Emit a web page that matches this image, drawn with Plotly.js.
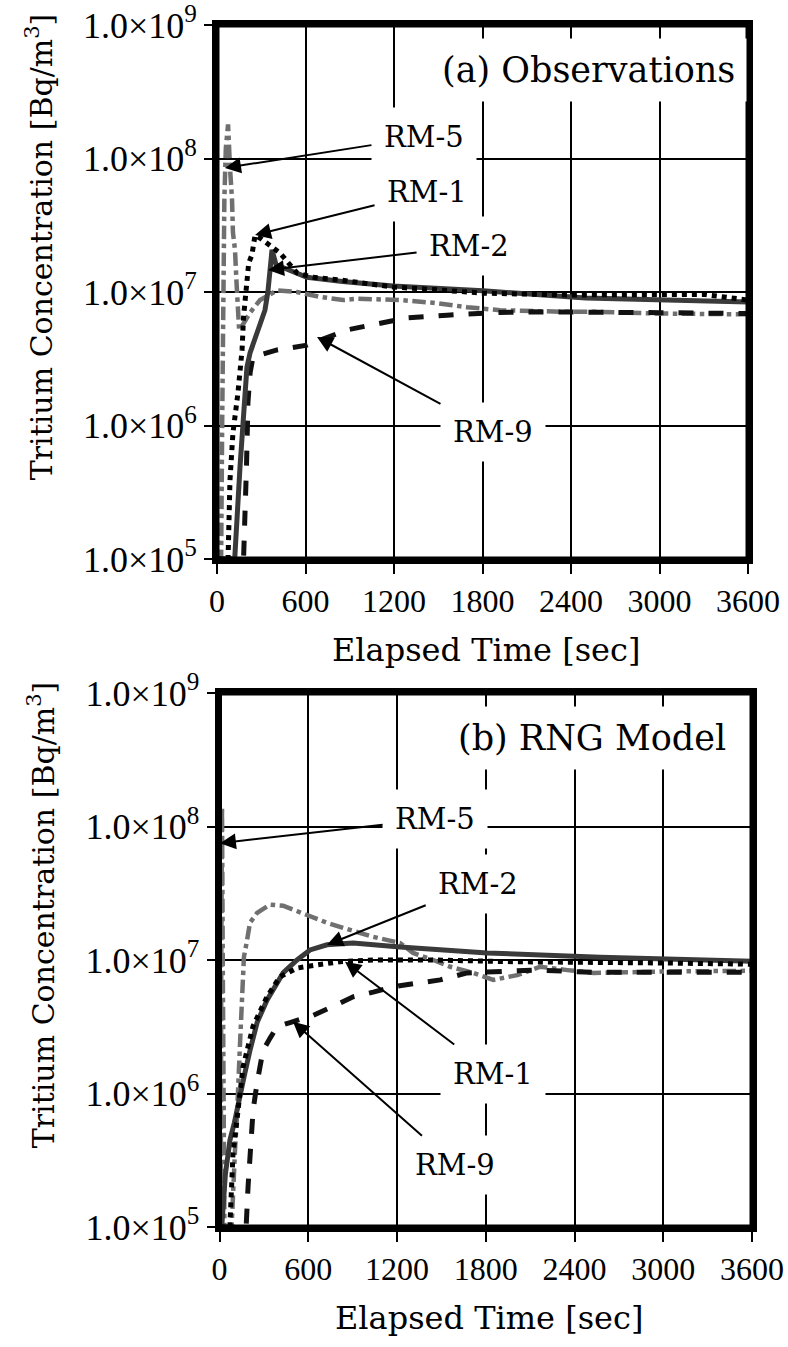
<!DOCTYPE html>
<html>
<head>
<meta charset="utf-8">
<script src="https://cdn.plot.ly/plotly-3.0.1.min.js"></script>
<style>
  html, body { margin: 0; padding: 0; background: #fff; }
  #chart { width: 788px; height: 1347px; }
</style>
</head>
<body>
<div id="chart"></div>
<script>
// ---------- DATA ----------
// Panel (a) Observations
const obsRM1_t = [0, 75, 88, 108, 142, 170, 180, 203, 215, 237, 258, 300, 339, 427, 542, 651, 834, 1193, 1512, 1804, 2373, 3000, 3300, 3600];
const obsRM1_c = [1e5, 1e5, 3.9e5, 8.8e5, 1.75e6, 3.7e6, 6.5e6, 1.17e7, 1.65e7, 1.9e7, 2.67e7, 2.5e7, 2.33e7, 1.96e7, 1.39e7, 1.29e7, 1.23e7, 1.09e7, 1.035e7, 9.8e6, 9.5e6, 9.6e6, 9.6e6, 8.7e6];

const obsRM2_t = [0, 120, 156, 176, 203, 224, 271, 325, 345, 359, 373, 400, 495, 610, 850, 1193, 1804, 2500, 3600];
const obsRM2_c = [1e5, 1e5, 4.9e5, 1.16e6, 2.74e6, 3.5e6, 4.9e6, 7.3e6, 1.0e7, 1.39e7, 2.07e7, 1.6e7, 1.45e7, 1.29e7, 1.2e7, 1.11e7, 1.02e7, 9.0e6, 8.4e6];

const obsRM5_t = [0, 28, 35, 42, 50, 60, 75, 88, 102, 108, 122, 132, 142, 150, 180, 224, 292, 407, 542, 698, 854, 949, 1241, 1464, 1695, 1919, 2373, 2597, 3000, 3600];
const obsRM5_c = [1e5, 1e5, 1e6, 1e7, 5e7, 1.2e8, 1.8e8, 8.6e7, 4.9e7, 2.8e7, 2.07e7, 1.2e7, 6.5e6, 5.2e6, 5.8e6, 7e6, 8.7e6, 1.03e7, 1.0e7, 9.2e6, 8.7e6, 8.9e6, 8.7e6, 8.3e6, 7.7e6, 7.3e6, 7.1e6, 7.1e6, 6.9e6, 6.8e6];

const obsRM9_t = [0, 180, 200, 210, 225, 244, 407, 610, 881, 1058, 1288, 1559, 1871, 2142, 2550, 3000, 3600];
const obsRM9_c = [1e5, 1e5, 5e5, 1.5e6, 2.5e6, 3.26e6, 3.68e6, 4.0e6, 5.2e6, 5.66e6, 6.4e6, 6.7e6, 7.0e6, 7.1e6, 7.1e6, 7.0e6, 6.9e6];

// Panel (b) RNG Model
const rngRM1_t = [0, 70, 91, 125, 159, 227, 321, 409, 524, 660, 815, 1039, 1445, 2000, 2500, 3000, 3600];
const rngRM1_c = [1e5, 1e5, 3.5e5, 8e5, 1.58e6, 3.2e6, 5.3e6, 7.5e6, 8.7e6, 9.2e6, 9.7e6, 1e7, 1e7, 9.7e6, 9.5e6, 9.5e6, 9.3e6];

const rngRM2_t = [0, 15, 40, 71, 100, 139, 170, 206, 254, 321, 430, 524, 612, 727, 903, 1221, 1810, 2575, 3600];
const rngRM2_c = [1e5, 1e5, 2.5e5, 4.5e5, 6e5, 1.0e6, 1.4e6, 2.1e6, 3.4e6, 5e6, 8e6, 1e7, 1.19e7, 1.3e7, 1.34e7, 1.25e7, 1.13e7, 1.05e7, 9.8e6];

const rngRM5_t = [0, 8, 12, 17, 22, 28, 35, 70, 85, 105, 118, 125, 139, 152, 165, 186, 206, 254, 342, 430, 565, 727, 883, 1039, 1221, 1309, 1445, 1560, 1715, 1851, 2013, 2169, 2352, 2528, 3000, 3600];
const rngRM5_c = [1e5, 1e5, 1e7, 1.4e8, 1e7, 1e5, 5e4, 5e4, 1.5e5, 3.8e5, 6.7e5, 1.2e6, 2.4e6, 5e6, 1.05e7, 1.4e7, 1.9e7, 2.25e7, 2.6e7, 2.55e7, 2.25e7, 1.9e7, 1.68e7, 1.49e7, 1.34e7, 1.13e7, 1.0e7, 8.9e6, 8.0e6, 7.1e6, 7.7e6, 8.9e6, 8.4e6, 8.0e6, 8.2e6, 8.3e6];

const rngRM9_t = [0, 180, 193, 206, 227, 254, 294, 342, 389, 477, 633, 768, 903, 1039, 1174, 1336, 1492, 1675, 1851, 2121, 2527, 3000, 3600];
const rngRM9_c = [1e5, 1e5, 2e5, 3.3e5, 7.5e5, 1.2e6, 2.1e6, 2.6e6, 3.16e6, 3.4e6, 3.85e6, 4.5e6, 5.3e6, 5.75e6, 6.3e6, 6.7e6, 7.1e6, 8e6, 8.1e6, 8.4e6, 8.1e6, 8.1e6, 8.1e6];

// Axis ticks / labels
const xTickVals = [0, 600, 1200, 1800, 2400, 3000, 3600];
const yTickVals = [1e5, 1e6, 1e7, 1e8, 1e9];
const yTickText = ["1.0×10<sup>5</sup>", "1.0×10<sup>6</sup>", "1.0×10<sup>7</sup>", "1.0×10<sup>8</sup>", "1.0×10<sup>9</sup>"];
const xTitle = "Elapsed Time [sec]";
const yTitle = "Tritium Concentration [Bq/m<sup>3</sup>]";
const panelTitles = ["(a) Observations", "(b) RNG Model"];

// Label annotations: [label, headT, headC, textT, textC]
const obsLabels = [
  ["RM-5", 54, 8.5e7, 1403, 1.45e8],
  ["RM-1", 258, 2.67e7, 1424, 5.6e7],
  ["RM-2", 346, 1.46e7, 1709, 2.2e7],
  ["RM-9", 678, 4.6e6, 1871, 8.9e5]
];
const rngLabels = [
  ["RM-5", 3, 7.5e7, 1458, 1.14e8],
  ["RM-2", 727, 1.3e7, 1749, 3.7e7],
  ["RM-1", 849, 9.7e6, 1850, 1.4e6],
  ["RM-9", 497, 3.45e6, 1594, 2.9e5]
];

// ---------- STYLE ----------
const styles = {
  RM5: {color: '#707070', width: 4.5, dash: 'dashdot'},
  RM9: {color: '#111111', width: 5, dash: 'dash'},
  RM2: {color: '#3a3a3a', width: 5, dash: 'solid'},
  RM1: {color: '#000000', width: 5, dash: 'dot'}
};

function tr(t, c, name, st, xa, ya) {
  return {x: t, y: c, name: name, type: 'scatter', mode: 'lines',
          line: {color: st.color, width: st.width, dash: st.dash},
          xaxis: xa, yaxis: ya, showlegend: false, hoverinfo: 'skip'};
}

const data = [
  tr(obsRM5_t, obsRM5_c, 'RM-5', styles.RM5, 'x', 'y'),
  tr(obsRM9_t, obsRM9_c, 'RM-9', styles.RM9, 'x', 'y'),
  tr(obsRM2_t, obsRM2_c, 'RM-2', styles.RM2, 'x', 'y'),
  tr(obsRM1_t, obsRM1_c, 'RM-1', styles.RM1, 'x', 'y'),
  tr(rngRM5_t, rngRM5_c, 'RM-5', styles.RM5, 'x2', 'y2'),
  tr(rngRM9_t, rngRM9_c, 'RM-9', styles.RM9, 'x2', 'y2'),
  tr(rngRM2_t, rngRM2_c, 'RM-2', styles.RM2, 'x2', 'y2'),
  tr(rngRM1_t, rngRM1_c, 'RM-1', styles.RM1, 'x2', 'y2')
];

const W = 788, H = 1347;
const serif = '"DejaVu Serif", serif';
const tickSerif = '"Liberation Serif", "Times New Roman", Times, serif';

function xax(domain, anchor) {
  return {domain: domain, anchor: anchor, range: [0, 3600], type: 'linear',
    tickvals: xTickVals, ticktext: xTickVals.map(String),
    showline: true, linewidth: 5, linecolor: '#000', mirror: true,
    showgrid: true, gridcolor: '#000', gridwidth: 2, zeroline: false,
    ticks: 'outside', ticklen: 10, tickwidth: 2, tickcolor: '#000',
    ticklabeloverflow: 'allow',
    tickfont: {family: tickSerif, size: 32, color: '#000'}, automargin: false, fixedrange: true};
}
function yax(domain, anchor) {
  return {domain: domain, anchor: anchor, type: 'log', range: [5, 9],
    tickvals: yTickVals, ticktext: yTickText,
    showline: true, linewidth: 5, linecolor: '#000', mirror: true,
    showgrid: true, gridcolor: '#000', gridwidth: 2, zeroline: false,
    ticks: 'outside', ticklen: 8, tickwidth: 2, tickcolor: '#000',
    ticklabeloverflow: 'allow',
    tickfont: {family: tickSerif, size: 36, color: '#000'}, automargin: false, fixedrange: true};
}

const annotations = [];
function labelAnn(list, xr, yr) {
  list.forEach(function (L) {
    annotations.push({xref: xr, yref: yr, axref: xr, ayref: yr,
      x: L[1], y: Math.log10(L[2]), ax: L[3], ay: Math.log10(L[4]),
      text: L[0], showarrow: true, arrowhead: 2, arrowsize: 1.6, arrowwidth: 2, arrowcolor: '#000',
      font: {family: serif, size: 29, color: '#000'}, bgcolor: '#fff', borderpad: 12});
  });
}
labelAnn(obsLabels, 'x', 'y');
labelAnn(rngLabels, 'x2', 'y2');

const shapes = [];
[['x', 'y'], ['x2', 'y2']].forEach(function (p, i) {
  annotations.push({xref: p[0] + ' domain', yref: p[1] + ' domain', x: 0.70, y: 0.916,
    text: panelTitles[i], showarrow: false, xanchor: 'center', yanchor: 'middle',
    font: {family: serif, size: 35, color: '#000'}, bgcolor: '#fff', borderpad: 11});
  annotations.push({xref: p[0] + ' domain', yref: p[1] + ' domain', x: 0.507, y: -0.170,
    text: xTitle, showarrow: false, xanchor: 'center', yanchor: 'middle',
    font: {family: serif, size: 32, color: '#000'}});
  annotations.push({xref: p[0] + ' domain', yref: p[1] + ' domain', x: -0.335, y: 0.584,
    text: yTitle, showarrow: false, textangle: -90, xanchor: 'center', yanchor: 'middle',
    font: {family: serif, size: 30, color: '#000'}});
  // panel frame (thick border)
  shapes.push({type: 'rect', xref: p[0] + ' domain', yref: p[1] + ' domain',
    x0: 0, x1: 1, y0: 0, y1: 1, line: {color: '#000', width: 5}, layer: 'above'});
});

const layout = {
  width: W, height: H,
  margin: {l: 0, r: 0, t: 0, b: 0, pad: 0},
  paper_bgcolor: '#fff', plot_bgcolor: '#fff',
  showlegend: false,
  xaxis: xax([217 / W, 748 / W], 'y'),
  yaxis: yax([1 - 559 / H, 1 - 25 / H], 'x'),
  xaxis2: xax([219.5 / W, 752 / W], 'y2'),
  yaxis2: yax([1 - 1227 / H, 1 - 693 / H], 'x2'),
  annotations: annotations,
  shapes: shapes
};

Plotly.newPlot('chart', data, layout, {staticPlot: true, displayModeBar: false});
</script>
</body>
</html>
